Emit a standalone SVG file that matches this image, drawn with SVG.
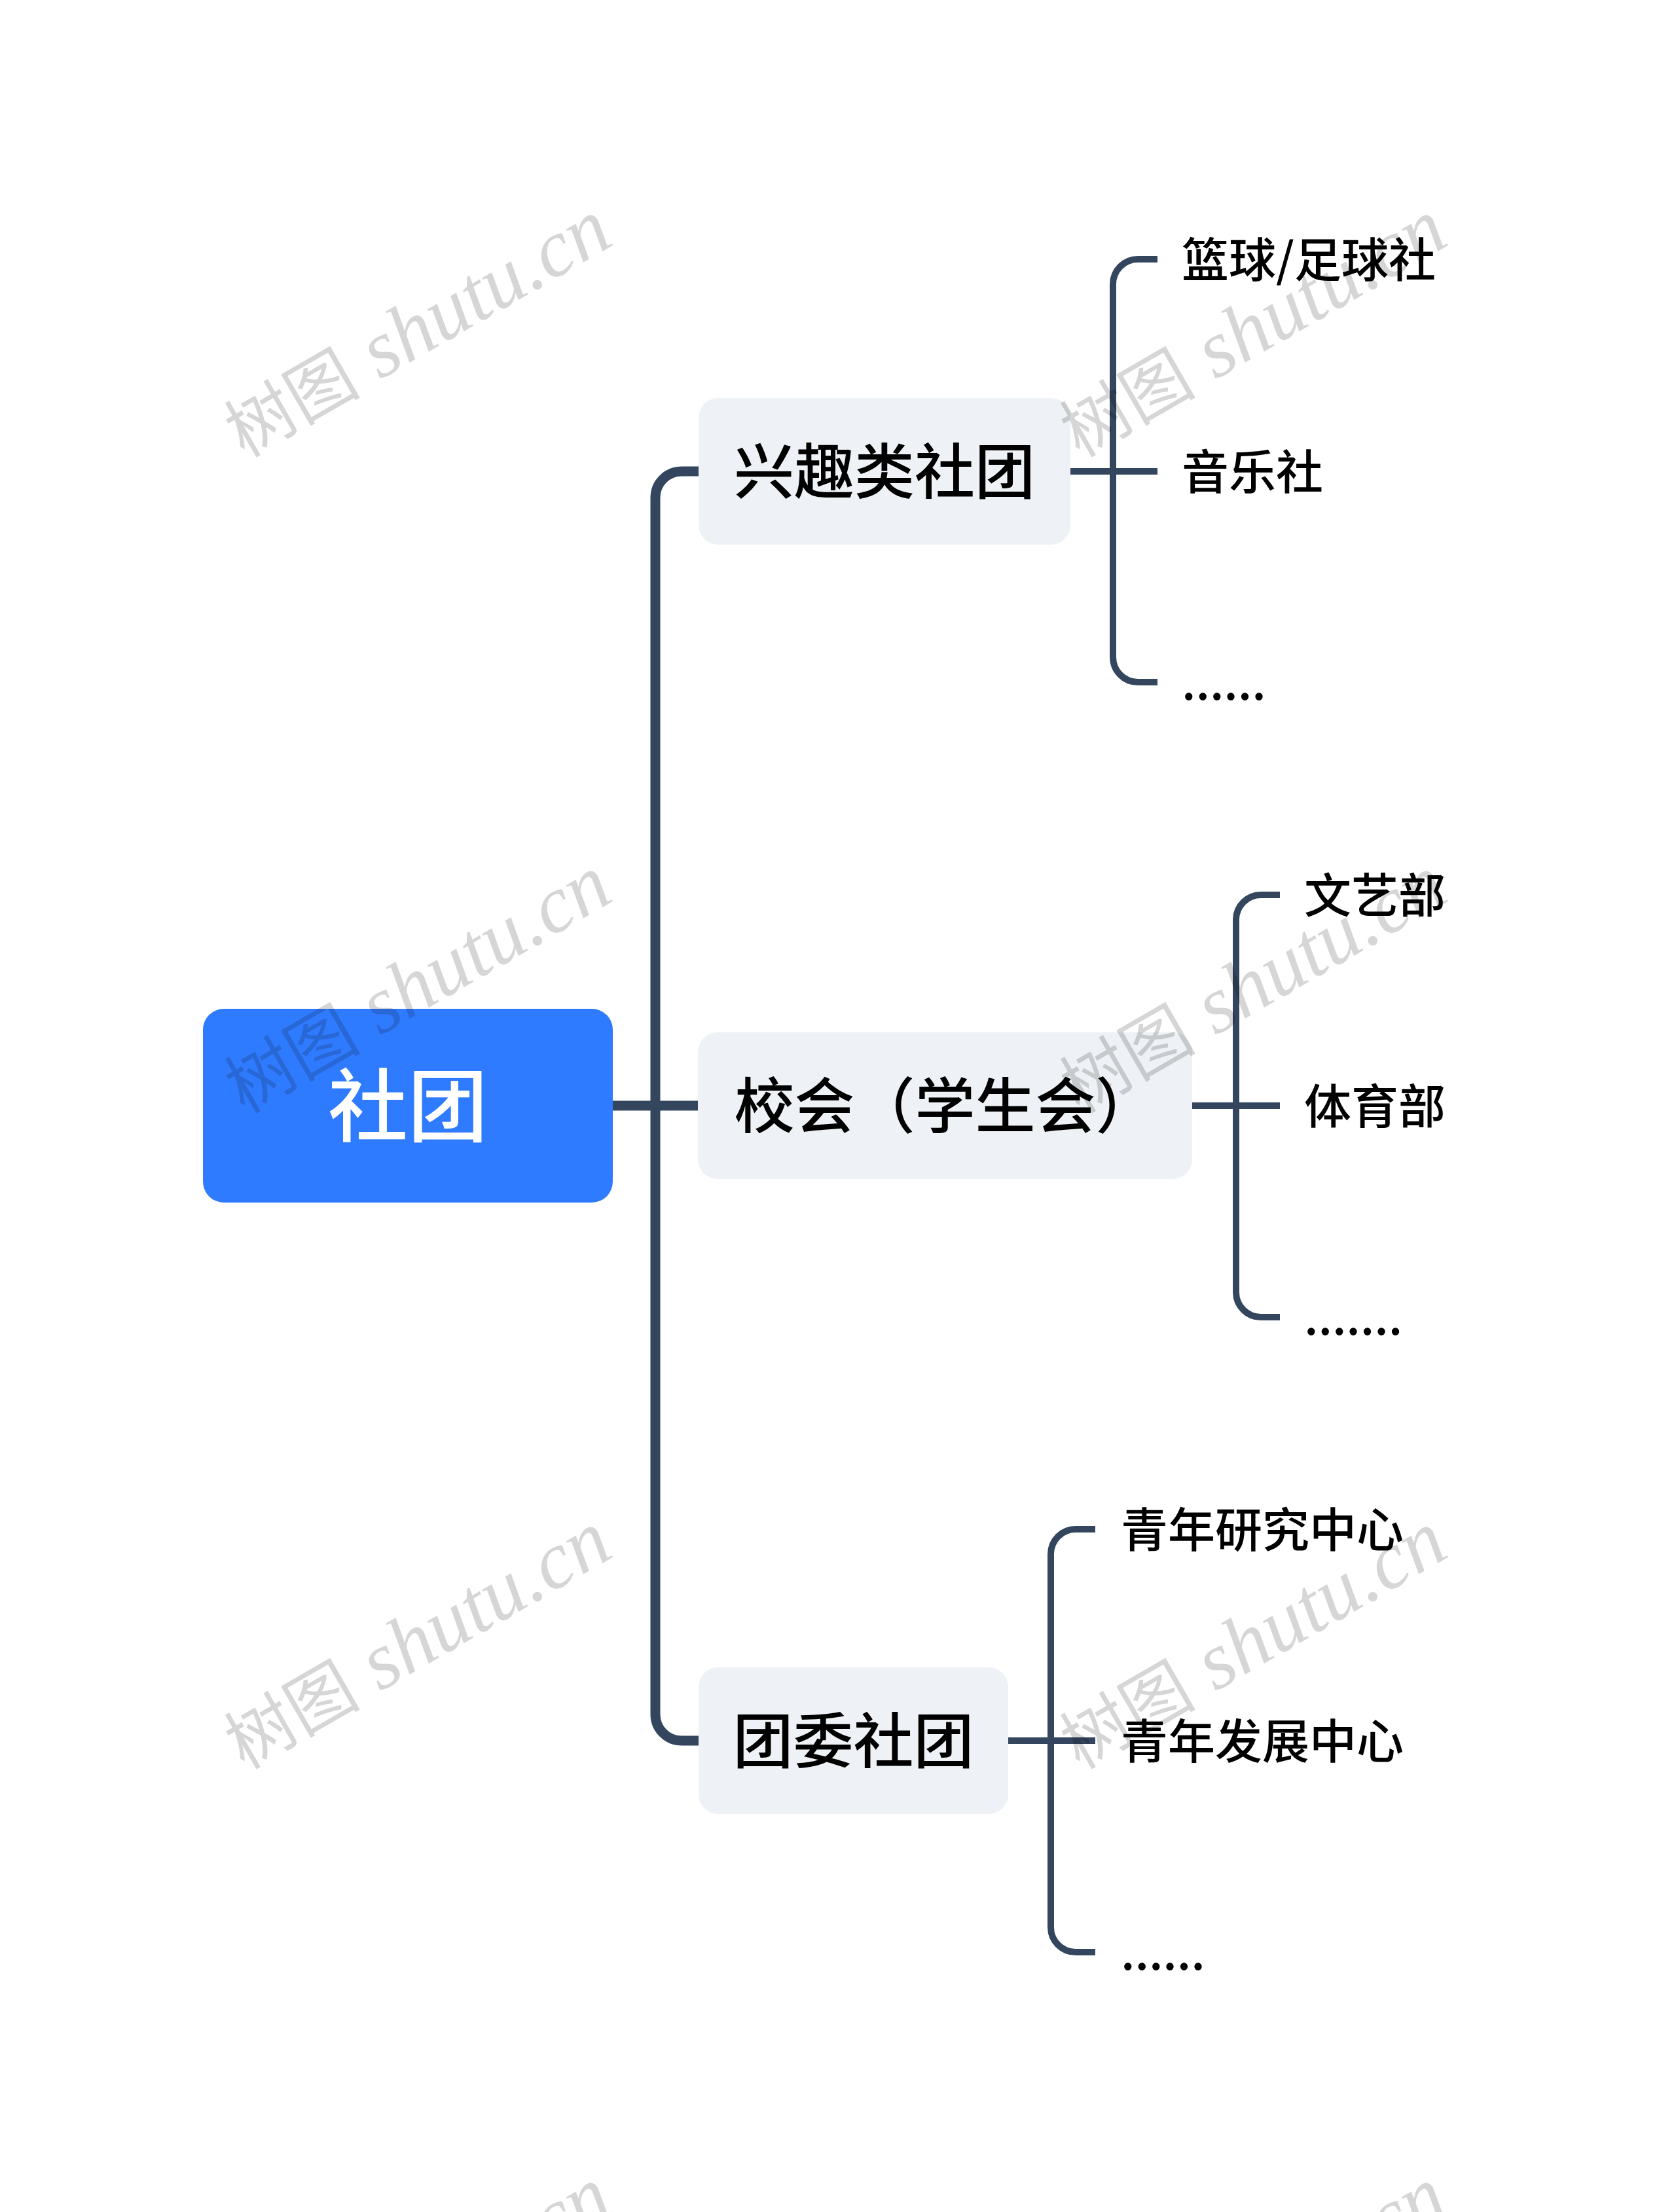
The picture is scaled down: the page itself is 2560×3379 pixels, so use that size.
<svg xmlns="http://www.w3.org/2000/svg" width="2560" height="3379" viewBox="0 0 2560 3379">
<style>
.bg{fill:#ffffff}
.root{fill:#2f7bff}
.node{fill:#eef1f5}
.t{font-family:"Noto Sans CJK SC","Noto Sans",sans-serif;fill:#000000;font-weight:500}
.rt{font-family:"Noto Sans CJK SC","Noto Sans",sans-serif;fill:#ffffff;font-size:122px;font-weight:500}
.n1{font-size:92px}
.n2{font-size:72px}
.c1{fill:none;stroke:#34465e;stroke-width:15}
.c2{fill:none;stroke:#34465e;stroke-width:10}
.wm{font-family:"Liberation Serif","Noto Sans CJK SC",serif;font-size:124px;fill:#000000;fill-opacity:0.16}
.wmc{font-family:"Noto Sans CJK SC",sans-serif;font-size:104px}
.wml{font-style:italic}
</style>
<rect class="bg" x="0" y="0" width="2560" height="3379"/>
<g id="connectors">
<path class="c1" d="M936 1689 H1067"/>
<path class="c1" d="M1068 720 H1041 A40 40 0 0 0 1001 760 V2619 A40 40 0 0 0 1041 2659 H1068"/>
<path class="c2" d="M1635 720 H1768"/>
<path class="c2" d="M1768 396 H1738 A38 38 0 0 0 1700 434 V1004 A38 38 0 0 0 1738 1042 H1768"/>
<path class="c2" d="M1821 1689 H1955"/>
<path class="c2" d="M1955 1367 H1926 A38 38 0 0 0 1888 1405 V1974 A38 38 0 0 0 1926 2012 H1955"/>
<path class="c2" d="M1540 2659 H1673"/>
<path class="c2" d="M1673 2336 H1643 A38 38 0 0 0 1605 2374 V2944 A38 38 0 0 0 1643 2982 H1673"/>
</g>
<g id="root">
<rect class="root" x="310" y="1541" width="626" height="296" rx="32"/>
<text class="rt" x="623" y="1734" text-anchor="middle">社团</text>
</g>
<g id="n-xingqu">
<rect class="node" x="1067" y="608" width="568" height="224" rx="30"/>
<text class="t n1" x="1351" y="754" text-anchor="middle">兴趣类社团</text>
</g>
<g id="n-xiaohui">
<rect class="node" x="1066" y="1577" width="755" height="224" rx="30"/>
<text class="t n1" x="1443.5" y="1723" text-anchor="middle">校会（学生会）</text>
</g>
<g id="n-tuanwei">
<rect class="node" x="1067" y="2547" width="473" height="224" rx="30"/>
<text class="t n1" x="1303.5" y="2693" text-anchor="middle">团委社团</text>
</g>
<g id="c-lanqiu"><text class="t n2" x="1805" y="423">篮球/足球社</text></g>
<g id="c-yinyue"><text class="t n2" x="1805" y="747">音乐社</text></g>
<g id="c-more1"><text class="t n2" x="1805" y="1069">......</text></g>
<g id="c-wenyi"><text class="t n2" x="1992" y="1394">文艺部</text></g>
<g id="c-tiyu"><text class="t n2" x="1992" y="1716">体育部</text></g>
<g id="c-more2"><text class="t n2" x="1992" y="2039">.......</text></g>
<g id="c-yanjiu"><text class="t n2" x="1712" y="2363">青年研究中心</text></g>
<g id="c-fazhan"><text class="t n2" x="1712" y="2686">青年发展中心</text></g>
<g id="c-more3"><text class="t n2" x="1712" y="3009">......</text></g>
<g id="watermarks">
<text class="wm" transform="translate(373,700) rotate(-30)"><tspan class="wmc">树图</tspan><tspan class="wml"> shutu.cn</tspan></text>
<text class="wm" transform="translate(1649,700) rotate(-30)"><tspan class="wmc">树图</tspan><tspan class="wml"> shutu.cn</tspan></text>
<text class="wm" transform="translate(373,1702) rotate(-30)"><tspan class="wmc">树图</tspan><tspan class="wml"> shutu.cn</tspan></text>
<text class="wm" transform="translate(1649,1702) rotate(-30)"><tspan class="wmc">树图</tspan><tspan class="wml"> shutu.cn</tspan></text>
<text class="wm" transform="translate(373,2704) rotate(-30)"><tspan class="wmc">树图</tspan><tspan class="wml"> shutu.cn</tspan></text>
<text class="wm" transform="translate(1649,2704) rotate(-30)"><tspan class="wmc">树图</tspan><tspan class="wml"> shutu.cn</tspan></text>
<text class="wm" transform="translate(373,3706) rotate(-30)"><tspan class="wmc">树图</tspan><tspan class="wml"> shutu.cn</tspan></text>
<text class="wm" transform="translate(1649,3706) rotate(-30)"><tspan class="wmc">树图</tspan><tspan class="wml"> shutu.cn</tspan></text>
</g>
</svg>
